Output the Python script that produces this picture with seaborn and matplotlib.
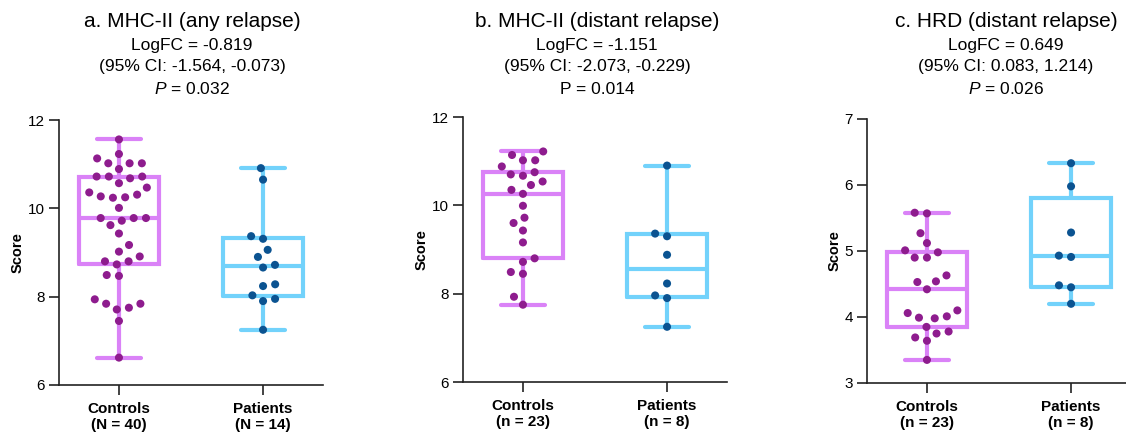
import numpy as np
import pandas as pd
import matplotlib
matplotlib.use("Agg")
import matplotlib.pyplot as plt
import seaborn as sns

# ---------------- data ----------------
groups = ["Controls", "Patients"]

a_controls = [11.56, 11.23, 11.13, 11.02, 11.02, 11.02, 10.89, 10.72, 10.72, 10.72,
              10.68, 10.57, 10.47, 10.36, 10.31, 10.27, 10.25, 10.24, 10.01, 9.78,
              9.78, 9.78, 9.72, 9.62, 9.43, 9.17, 9.02, 8.91, 8.80, 8.80,
              8.73, 8.49, 8.47, 7.94, 7.84, 7.84, 7.75, 7.71, 7.45, 6.62]
a_patients = [10.91, 10.65, 9.37, 9.31, 9.06, 8.90, 8.72, 8.66, 8.28, 8.24,
              8.03, 7.95, 7.90, 7.25]

b_controls = [11.22, 11.14, 11.02, 11.02, 10.88, 10.75, 10.70, 10.67, 10.54, 10.46,
              10.35, 10.26, 9.99, 9.72, 9.60, 9.43, 9.16, 8.80, 8.72, 8.49,
              8.45, 7.93, 7.75]
b_patients = [10.90, 9.36, 9.30, 8.88, 8.23, 7.96, 7.90, 7.25]

c_controls = [5.58, 5.57, 5.27, 5.12, 5.01, 4.98, 4.90, 4.90, 4.63, 4.54,
              4.53, 4.42, 4.10, 4.06, 4.01, 3.99, 3.98, 3.85, 3.78, 3.75,
              3.69, 3.64, 3.35]
c_patients = [6.33, 5.98, 5.28, 4.93, 4.91, 4.48, 4.45, 4.20]

a_xlabels = ["Controls\n(N = 40)", "Patients\n(N = 14)"]
b_xlabels = ["Controls\n(n = 23)", "Patients\n(n = 8)"]
c_xlabels = ["Controls\n(n = 23)", "Patients\n(n = 8)"]

titles = ["a. MHC-II (any relapse)", "b. MHC-II (distant relapse)", "c. HRD (distant relapse)"]
logfc_lines = ["LogFC = -0.819", "LogFC = -1.151", "LogFC = 0.649"]
ci_lines = ["(95% CI: -1.564, -0.073)", "(95% CI: -2.073, -0.229)", "(95% CI: 0.083, 1.214)"]
p_lines = ["$P$ = 0.032", "P = 0.014", "$P$ = 0.026"]

a_yticks = [6, 8, 10, 12]
b_yticks = [6, 8, 10, 12]
c_yticks = [3, 4, 5, 6, 7]

# ---------------- style ----------------
sns.set_style("ticks")
plt.rcParams["font.family"] = ["Liberation Sans", "DejaVu Sans"]
plt.rcParams["mathtext.fontset"] = "custom"
plt.rcParams["mathtext.rm"] = "Liberation Sans"
plt.rcParams["mathtext.it"] = "Liberation Sans:italic"
plt.rcParams["mathtext.bf"] = "Liberation Sans:bold"
plt.rcParams["text.color"] = "black"
plt.rcParams["axes.labelcolor"] = "black"
plt.rcParams["xtick.color"] = "black"
plt.rcParams["ytick.color"] = "black"

box_colors = ["#DA82F7", "#72D2FB"]
point_colors = ["#8E1C8E", "#0B5391"]
ink = "#222222"

W, H = 1126, 437
fig = plt.figure(figsize=(W / 100, H / 100), dpi=100)


def box_stats(v):
    v = np.asarray(v, dtype=float)
    q1, med, q3 = np.percentile(v, [25, 50, 75], method="weibull")
    return dict(med=med, q1=q1, q3=q3, whislo=v.min(), whishi=v.max(), fliers=[])


panels = [
    (a_controls, a_patients, a_xlabels, a_yticks, (59, 120, 323, 385), 192),
    (b_controls, b_patients, b_xlabels, b_yticks, (463, 117, 727, 382), 597),
    (c_controls, c_patients, c_xlabels, c_yticks, (867, 119, 1131, 383), 1006),
]

for k, (ctrl, pat, xl, yt, (x0, y0, x1, y1), tcx) in enumerate(panels):
    ax = fig.add_axes([x0 / W, 1 - y1 / H, (x1 - x0) / W, (y1 - y0) / H])
    df = pd.DataFrame({
        "group": [groups[0]] * len(ctrl) + [groups[1]] * len(pat),
        "score": list(ctrl) + list(pat),
    })
    for i, (vals, col) in enumerate(zip([ctrl, pat], box_colors)):
        lp = dict(color=col, linewidth=3)
        ax.bxp([box_stats(vals)], positions=[i], widths=0.55, capwidths=0.30,
               showfliers=False, manage_ticks=False, zorder=2,
               boxprops=dict(color=col, linewidth=3, solid_joinstyle="miter"),
               whiskerprops=lp,
               capprops=dict(color=col, linewidth=3, solid_capstyle="round"),
               medianprops=dict(color=col, linewidth=3))
    sns.swarmplot(data=df, x="group", y="score", hue="group", order=groups,
                  hue_order=groups, palette=point_colors, size=5.8,
                  linewidth=2.6, edgecolor="none", legend=False, ax=ax, zorder=3)

    ax.set_xlim(-0.416, 1.416)
    ax.set_ylim(yt[0], yt[-1])
    ax.set_yticks(yt)
    ax.set_xticks([0, 1], xl)
    for lbl in ax.get_xticklabels():
        lbl.set_fontweight("bold")
        lbl.set_linespacing(1.2)
    ax.set_xlabel("")
    ax.set_ylabel("Score", fontsize=10.5, fontweight="bold", labelpad=2.5)
    sns.despine(ax=ax)
    for s in ["left", "bottom"]:
        ax.spines[s].set_linewidth(1.2)
        ax.spines[s].set_color(ink)
    ax.tick_params(axis="both", length=7, width=1.2, color=ink, labelsize=11)
    ax.tick_params(axis="x", pad=5)
    ax.tick_params(axis="y", pad=3)

    # header texts
    fig.text(tcx / W, 1 - 27 / H, titles[k], ha="center", va="baseline", fontsize=15)
    fig.text(tcx / W, 1 - 50 / H, logfc_lines[k], ha="center", va="baseline", fontsize=12.5)
    fig.text(tcx / W, 1 - 71 / H, ci_lines[k], ha="center", va="baseline", fontsize=12.5)
    fig.text(tcx / W, 1 - 94 / H, p_lines[k], ha="center", va="baseline", fontsize=12.5)

fig.savefig("out.png", dpi=100, facecolor="white")
